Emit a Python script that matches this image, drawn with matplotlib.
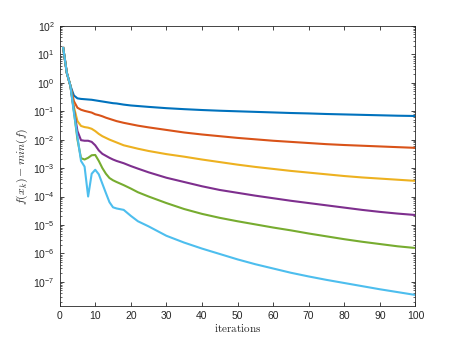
import numpy as np
import matplotlib
matplotlib.use('Agg')
import matplotlib.pyplot as plt
from matplotlib.ticker import LogLocator, NullFormatter, MultipleLocator

plt.rcParams['font.family'] = ['Liberation Sans', 'DejaVu Sans']
plt.rcParams['mathtext.fontset'] = 'cm'

# 迭代次数（读图取点）
iters = [1, 2, 3, 4, 5, 6, 7, 8, 9, 10, 11, 12, 13, 14, 15, 16, 18, 20, 22, 25,
         30, 35, 40, 45, 50, 55, 60, 65, 70, 75, 80, 85, 90, 95, 100]

# 各曲线 log10(f(x_k) - min f)
log_blue = [1.22, 0.35, -0.10, -0.45, -0.55, -0.57, -0.58, -0.59, -0.60, -0.62,
            -0.64, -0.66, -0.68, -0.70, -0.72, -0.73, -0.77, -0.80, -0.82, -0.85,
            -0.895, -0.93, -0.96, -0.985, -1.005, -1.025, -1.045, -1.065, -1.08, -1.10,
            -1.115, -1.13, -1.145, -1.16, -1.17]
log_red = [1.22, 0.35, -0.10, -0.65, -0.88, -0.95, -0.99, -1.02, -1.05, -1.11,
           -1.14, -1.18, -1.23, -1.27, -1.31, -1.35, -1.41, -1.46, -1.51, -1.57,
           -1.66, -1.75, -1.82, -1.88, -1.94, -1.99, -2.04, -2.08, -2.12, -2.16,
           -2.19, -2.215, -2.24, -2.265, -2.29]
log_yellow = [1.22, 0.35, -0.10, -0.85, -1.35, -1.52, -1.56, -1.58, -1.62, -1.70,
              -1.80, -1.88, -1.94, -2.00, -2.05, -2.10, -2.20, -2.26, -2.32, -2.40,
              -2.51, -2.60, -2.70, -2.79, -2.88, -2.96, -3.03, -3.10, -3.16, -3.22,
              -3.28, -3.33, -3.37, -3.41, -3.45]
log_purple = [1.22, 0.35, -0.10, -0.95, -1.70, -2.02, -2.04, -2.04, -2.08, -2.20,
              -2.38, -2.50, -2.57, -2.64, -2.70, -2.75, -2.83, -2.93, -3.02, -3.15,
              -3.34, -3.49, -3.64, -3.77, -3.87, -3.97, -4.06, -4.15, -4.23, -4.31,
              -4.39, -4.47, -4.54, -4.60, -4.65]
log_green = [1.22, 0.35, -0.10, -1.00, -2.00, -2.65, -2.70, -2.64, -2.55, -2.54,
             -2.75, -3.00, -3.20, -3.35, -3.43, -3.49, -3.60, -3.72, -3.85, -4.00,
             -4.23, -4.44, -4.61, -4.75, -4.87, -4.98, -5.09, -5.19, -5.30, -5.40,
             -5.50, -5.59, -5.67, -5.75, -5.81]
log_cyan = [1.22, 0.35, -0.10, -1.05, -1.90, -2.75, -2.95, -4.00, -3.20, -3.06,
            -3.22, -3.55, -3.88, -4.20, -4.38, -4.42, -4.47, -4.68, -4.87, -5.05,
            -5.38, -5.62, -5.83, -6.02, -6.21, -6.38, -6.53, -6.68, -6.81, -6.93,
            -7.04, -7.15, -7.26, -7.36, -7.46]

# y轴刻度（十的幂）
y_decades = [-7, -6, -5, -4, -3, -2, -1, 0, 1, 2]

series = [log_blue, log_red, log_yellow, log_purple, log_green, log_cyan]
colors = ['#0072BD', '#D95319', '#EDB120', '#7E2F8E', '#77AC30', '#4DBEEE']

fig = plt.figure(figsize=(4.59, 3.44), dpi=100)
ax = fig.add_axes([0.13, 0.11, 0.775, 0.815])

for s, c in zip(series, colors):
    ax.semilogy(iters, 10 ** np.array(s), color=c, linewidth=1.5)

ax.set_xlim(0, 100)
ax.set_ylim(1.4e-8, 1e2)
ax.xaxis.set_major_locator(MultipleLocator(10))
ax.set_yticks([10.0 ** d for d in y_decades])
ax.set_yticklabels([r'$\mathdefault{10^{%d}}$' % d for d in y_decades])
ax.yaxis.set_minor_locator(LogLocator(base=10, subs=np.arange(2, 10), numticks=20))
ax.yaxis.set_minor_formatter(NullFormatter())

axcol = '#262626'
for sp in ax.spines.values():
    sp.set_color(axcol)
    sp.set_linewidth(0.6)
ax.tick_params(axis='both', which='major', direction='in', length=3, width=0.6,
               color=axcol, labelcolor=axcol, labelsize=7.5, top=True, right=True)
ax.tick_params(axis='both', which='minor', direction='in', length=1.6, width=0.5,
               color=axcol, top=True, right=True)

ax.set_xlabel(r'$\mathrm{iterations}$', fontsize=8, color=axcol, labelpad=1)
ax.set_ylabel(r'$f(x_k) - min(f)$', fontsize=8.5, color=axcol, labelpad=2)

fig.savefig('out.png', dpi=100)
